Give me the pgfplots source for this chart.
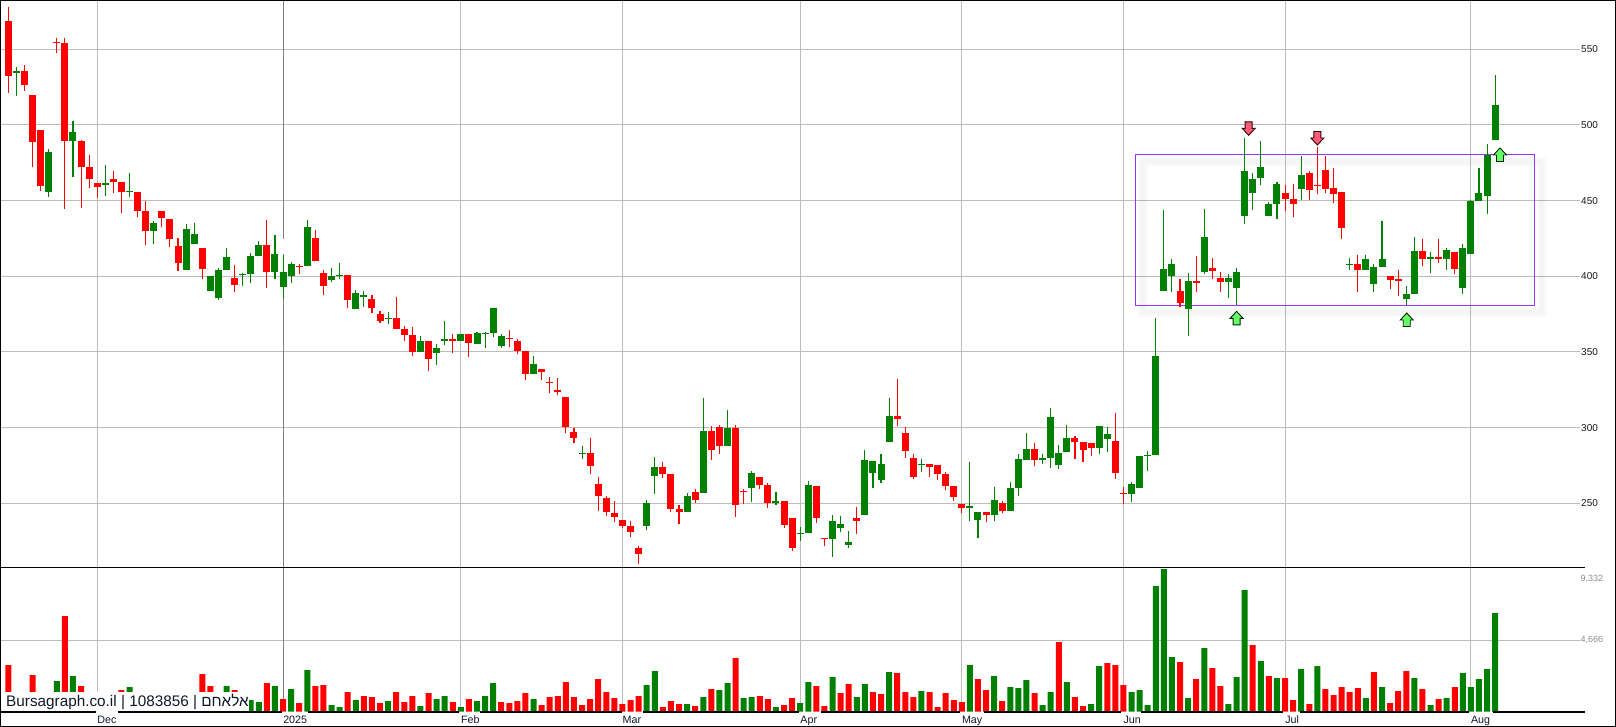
\documentclass[border=0pt]{standalone}
\usepackage{fontspec}
\setmainfont{Liberation Sans}
\newfontfamily\hebfont[Script=Hebrew]{Liberation Sans}
\TeXXeTstate=1
\usepackage{pgfplots}
\usepackage{pgfplotstable}
\pgfplotsset{compat=1.18}
\definecolor{cred}{HTML}{FF0000}
\definecolor{cgreen}{HTML}{008000}
\definecolor{gridc}{HTML}{BFBCB7}
\definecolor{boxc}{HTML}{9933FF}
\definecolor{navy}{HTML}{101828}
\definecolor{upc}{HTML}{66FF66}
\definecolor{dnc}{HTML}{FF5C7A}
\pgfdeclareplotmark{uparr}{%
  \pgfpathmoveto{\pgfqpoint{0pt}{7pt}}\pgfpathlineto{\pgfqpoint{6.5pt}{0pt}}\pgfpathlineto{\pgfqpoint{3.5pt}{0pt}}%
  \pgfpathlineto{\pgfqpoint{3.5pt}{-6.5pt}}\pgfpathlineto{\pgfqpoint{-3.5pt}{-6.5pt}}\pgfpathlineto{\pgfqpoint{-3.5pt}{0pt}}%
  \pgfpathlineto{\pgfqpoint{-6.5pt}{0pt}}\pgfpathclose\pgfusepathqfillstroke}
\pgfdeclareplotmark{dnarr}{%
  \pgfpathmoveto{\pgfqpoint{0pt}{-7pt}}\pgfpathlineto{\pgfqpoint{6.5pt}{0pt}}\pgfpathlineto{\pgfqpoint{3.5pt}{0pt}}%
  \pgfpathlineto{\pgfqpoint{3.5pt}{6.5pt}}\pgfpathlineto{\pgfqpoint{-3.5pt}{6.5pt}}\pgfpathlineto{\pgfqpoint{-3.5pt}{0pt}}%
  \pgfpathlineto{\pgfqpoint{-6.5pt}{0pt}}\pgfpathclose\pgfusepathqfillstroke}
\pgfplotstableread{
x hi top bot lo
0 578.0 568.7 532.4 521.1
2 539.6 535.7 526.4 522.5
3 519.8 519.8 488.8 472.2
4 496.7 496.7 459.7 456.4
6 557.5 554.8 554.2 547.6
7 557.5 554.2 489.4 444.5
9 490.1 489.4 472.2 445.2
10 480.2 472.2 464.3 458.4
11 461.7 461.7 459.0 451.8
13 469.6 464.3 462.3 455.1
14 462.3 462.3 455.7 441.9
16 455.7 455.7 443.2 439.2
17 449.8 443.2 430.0 420.7
19 443.2 443.2 438.5 432.6
20 437.9 437.9 424.7 419.4
21 425.3 420.0 408.8 403.5
24 418.7 418.7 404.8 398.2
28 407.5 398.9 394.3 389.6
32 437.2 420.7 402.9 392.3
36 408.2 406.8 406.2 401.5
38 430.6 425.3 410.1 410.1
39 404.2 402.2 393.6 387.7
42 400.9 400.9 384.4 379.1
45 387.7 385.0 379.1 375.8
46 377.1 375.1 370.5 369.2
48 386.3 372.5 365.2 365.2
49 367.2 365.2 361.2 357.3
50 366.5 361.2 350.0 347.4
52 357.3 357.3 345.4 337.4
55 361.9 358.6 357.3 349.3
57 361.9 361.9 356.0 346.7
62 364.5 359.3 358.6 353.3
63 358.6 357.3 350.7 348.7
64 350.7 350.7 335.5 331.5
66 338.8 338.8 336.8 331.5
67 333.5 330.2 329.5 322.9
68 332.8 324.9 323.6 321.6
69 320.3 320.3 300.4 296.5
70 299.8 297.1 293.2 289.9
72 293.2 283.3 274.7 269.4
73 267.4 262.8 254.8 244.9
74 254.8 253.5 244.3 241.6
75 251.5 243.6 241.0 237.7
76 239.0 239.0 235.0 233.7
77 238.3 235.0 231.1 227.8
78 221.8 220.5 216.5 209.9
81 277.3 274.0 269.4 266.7
82 269.4 269.4 246.3 244.3
83 248.9 246.3 244.3 236.3
85 259.5 257.5 252.2 250.2
87 301.1 297.8 285.2 278.6
88 301.8 300.4 287.9 282.6
90 301.8 299.8 248.9 241.0
91 259.5 258.1 257.5 249.6
93 267.4 267.4 262.1 259.5
94 263.4 262.1 250.2 246.9
96 251.5 251.5 235.7 233.7
97 240.3 240.3 220.5 218.5
100 261.5 261.5 240.3 237.0
101 227.1 227.1 226.4 221.8
105 247.6 240.3 238.3 229.7
110 332.2 307.7 305.7 301.1
111 300.4 296.5 284.6 280.0
112 282.6 280.0 267.4 266.1
114 276.0 276.0 274.0 267.4
115 275.3 275.3 269.4 265.4
116 270.7 269.4 261.5 258.8
117 261.5 261.5 254.2 251.5
118 249.8 249.8 246.9 243.6
121 244.3 244.3 242.3 237.7
123 251.5 250.2 244.9 243.6
127 289.9 285.9 278.6 274.7
132 294.5 293.2 290.5 279.3
133 290.5 290.5 285.2 277.3
134 289.9 289.9 286.6 281.3
137 309.7 291.2 270.0 266.1
138 260.8 256.8 256.2 249.6
145 398.2 390.3 382.4 379.7
147 413.4 396.9 395.6 389.6
149 412.1 405.5 403.5 398.2
150 402.9 398.9 396.3 389.6
158 460.4 455.1 451.1 443.2
159 461.0 451.1 447.8 439.2
161 469.6 468.3 457.0 450.4
162 485.5 460.4 459.7 454.4
163 479.5 470.3 457.7 455.1
164 471.6 458.4 454.4 448.5
165 455.7 455.7 431.9 424.7
167 414.1 408.1 404.2 389.6
171 400.2 400.2 397.6 391.6
172 404.2 398.2 396.9 387.0
175 424.7 416.7 411.5 406.8
177 424.7 412.8 411.5 408.8
179 416.1 416.1 404.8 401.5
}\redc
\pgfplotstableread{
x hi top bot lo
1 538.3 535.7 534.4 519.2
5 484.1 482.2 455.7 452.4
8 502.6 495.4 489.4 465.6
12 473.6 461.7 460.4 453.1
15 468.3 456.4 455.7 452.4
18 436.6 435.2 430.0 421.4
22 434.6 431.3 404.2 404.2
23 435.2 428.0 421.4 421.4
25 400.2 400.2 390.3 390.3
26 405.5 404.2 385.7 384.4
27 418.7 412.8 404.2 404.2
29 402.2 401.8 400.9 393.6
30 415.4 413.4 401.5 395.6
31 423.4 420.7 413.4 413.4
33 427.3 414.8 402.9 398.2
34 414.1 402.9 393.0 385.5
35 409.5 408.2 400.2 395.6
37 437.2 432.6 406.8 406.8
40 405.5 400.2 397.6 396.3
41 408.8 400.9 400.0 398.2
43 391.0 389.0 378.4 378.4
44 390.3 387.7 386.3 379.7
47 376.4 372.5 371.8 368.5
51 360.6 357.3 350.0 350.0
53 355.3 352.6 349.3 341.4
54 370.5 358.6 357.3 354.6
56 361.9 361.9 357.3 357.3
58 363.2 362.6 355.3 355.3
59 363.2 362.8 362.1 352.6
60 379.1 379.1 362.6 359.9
61 361.9 360.6 354.0 352.6
65 347.4 342.1 335.5 335.5
71 287.9 283.3 282.6 279.3
79 252.2 250.2 235.0 232.4
80 280.6 274.0 268.1 256.2
84 256.8 254.8 244.3 244.3
86 319.6 297.8 256.8 256.8
89 311.7 299.8 287.9 287.9
92 271.4 270.0 260.1 250.9
95 257.5 251.5 250.2 248.9
98 234.4 230.4 229.7 225.1
99 264.8 262.1 230.4 230.4
102 242.3 238.3 226.4 214.5
103 241.6 236.3 233.7 231.1
104 231.7 224.4 222.5 220.5
106 285.2 278.6 242.3 242.3
107 278.0 278.0 270.0 260.1
108 282.6 276.0 265.4 263.4
109 319.6 307.7 290.5 290.5
113 279.3 276.0 275.3 270.7
119 277.3 248.2 246.9 238.3
120 244.3 244.3 239.0 227.1
122 260.8 252.2 242.3 238.3
124 264.1 260.1 244.9 244.9
125 282.6 279.3 260.1 254.8
126 296.5 285.9 278.6 278.6
128 282.6 280.0 278.6 276.0
129 313.0 307.0 280.0 273.3
130 288.5 283.3 275.3 272.6
131 301.8 293.2 283.9 283.9
135 301.1 301.1 286.6 282.6
136 300.4 295.8 292.5 283.9
139 264.1 262.8 256.2 250.9
140 281.3 281.3 260.1 260.1
141 284.6 281.9 281.3 271.4
142 372.5 347.4 281.9 281.9
143 443.8 404.8 390.3 390.3
144 411.5 408.1 400.2 389.6
146 402.2 396.9 378.4 360.6
148 444.5 426.0 402.9 401.5
151 401.5 398.9 396.3 385.7
152 405.5 402.9 392.3 381.1
153 491.4 469.6 439.9 434.6
154 468.3 464.3 455.1 443.8
155 489.4 472.2 465.0 460.4
156 449.1 447.8 439.9 439.9
157 462.3 461.0 447.8 437.9
160 479.5 467.0 457.7 450.4
166 412.1 408.1 407.5 404.2
168 414.1 411.5 404.2 404.2
169 408.1 406.2 394.9 389.6
170 436.6 411.5 406.2 406.2
173 393.6 388.3 385.0 381.1
174 426.0 416.7 388.3 388.3
176 416.1 412.8 411.5 402.2
178 418.7 417.4 411.5 404.2
180 421.4 418.7 392.3 388.3
181 450.2 449.8 414.8 414.8
182 471.6 455.1 449.8 449.8
183 487.4 480.2 453.1 441.2
184 533.0 513.2 490.1 490.1
}\greenc
\pgfplotstableread{
x v
0 3052
2 600
3 2398
4 600
7 6257
9 1679
10 600
11 600
13 600
14 1417
16 600
17 600
19 600
20 600
21 600
24 2463
25 1679
28 1417
32 1875
34 828
36 567
38 1679
39 1744
42 1286
44 1025
45 959
46 567
48 1286
49 632
50 1025
52 1221
55 632
57 828
61 632
62 567
63 698
64 1221
66 436
67 959
68 1025
69 1940
70 959
71 436
72 828
73 2136
74 1286
75 894
76 501
77 763
78 1025
81 305
82 698
83 501
85 371
87 1482
90 3510
93 1025
94 828
96 436
97 894
100 1679
101 371
103 1221
104 1809
107 1286
108 1155
110 2529
111 1286
112 959
114 1286
115 305
116 1221
117 763
118 632
120 2136
121 1417
123 698
127 1221
130 4556
132 959
133 371
136 3183
137 3052
138 1744
145 3248
147 2136
149 2856
150 1679
154 4360
156 2333
158 2202
159 763
161 501
163 1482
164 1090
165 1613
166 1286
167 1548
169 2594
171 567
172 1352
173 2660
175 1482
177 828
179 1613
}\redv
\pgfplotstableread{
x v
1 600
5 600
6 2006
8 2333
12 600
15 1613
18 600
22 600
23 600
26 600
27 1679
29 600
30 763
31 632
33 1679
35 1482
37 2725
40 436
41 305
43 763
47 698
51 371
53 828
54 1025
56 305
58 698
59 1025
60 1875
65 828
79 1744
80 2660
84 501
86 959
88 1417
89 1875
91 894
92 959
95 305
98 567
99 1940
102 2267
105 959
106 1809
109 2594
113 1352
119 3052
122 2333
124 1613
125 1548
126 2071
128 436
129 1286
131 1940
134 501
135 2987
139 1286
140 1417
141 436
142 8219
143 9330
144 3575
146 894
148 4164
151 501
152 2267
153 7957
155 3314
157 2202
160 2790
162 2987
168 894
170 1613
174 2202
176 436
178 894
180 2529
181 1613
182 2136
183 2790
184 6453
}\greenv
\pgfplotsset{
 chartbase/.style={
  scale only axis, width=1580pt,
  xmin=-1.031, xmax=194.5,
  anchor=north west,
  axis line style={draw=none}, tick style={draw=none},
  xtick={11,34,56,76,98,118,138,158,181},
  grid=major, grid style={gridc,line width=1pt},
  extra x ticks={34}, extra x tick labels={},
  extra x tick style={grid=major, grid style={color=black!50,line width=1pt}},
  yticklabel pos=right,
  clip=true,
 },
 wick/.style={only marks, mark size=0pt, mark options={draw=none,fill=none}, forget plot,
   error bars/.cd, y dir=both, y explicit, error mark=none,
   error bar style={color=#1,line width=1.1pt}},
 body/.style={only marks, mark size=0pt, mark options={draw=none,fill=none}, forget plot,
   error bars/.cd, y dir=plus, y explicit, error mark=none,
   error bar style={color=#1,line width=7pt}},
}
\begin{document}
\begin{tikzpicture}
\useasboundingbox (0,0) rectangle (1616pt,-727pt);
\begin{axis}[chartbase, at={(0pt,0pt)}, height=567.3pt,
  ymin=207.7, ymax=582.6,
  ytick={250,300,350,400,450,500,550},
  xticklabels={},
  yticklabel style={anchor=west, xshift=-1pt, font=\fontsize{10}{12}\selectfont, text=black!90,
    /pgf/number format/assume math mode=true, inner xsep=2pt},
]
\draw[white,line width=1.4pt] (axis cs:34.06,424.5) -- (axis cs:34.06,414.5);
\draw[black,opacity=0.02,line width=10pt,xshift=7pt,yshift=-7pt] (axis cs:139.5,480.4) rectangle (axis cs:188.9,380.8);
\draw[black,opacity=0.02,line width=5pt,xshift=7pt,yshift=-7pt] (axis cs:139.5,480.4) rectangle (axis cs:188.9,380.8);
\draw[boxc,line width=1pt] (axis cs:139.5,480.4) rectangle (axis cs:188.9,380.8);
\addplot[wick=cred] table[x=x,y=top,y error plus expr=\thisrow{hi}-\thisrow{top},y error minus expr=\thisrow{top}-\thisrow{lo}] {\redc};
\addplot[body=cred] table[x=x,y=bot,y error plus expr=\thisrow{top}-\thisrow{bot}] {\redc};
\addplot[wick=cgreen] table[x=x,y=top,y error plus expr=\thisrow{hi}-\thisrow{top},y error minus expr=\thisrow{top}-\thisrow{lo}] {\greenc};
\addplot[body=cgreen] table[x=x,y=bot,y error plus expr=\thisrow{top}-\thisrow{bot}] {\greenc};
\addplot[only marks, mark=uparr, mark options={draw=black!85!green, fill=upc, line width=0.9pt}, forget plot] coordinates {(152.0,372.2) (173.06,371.1) (184.6,480.2)};
\addplot[only marks, mark=dnarr, mark options={draw=black!80!red, fill=dnc, line width=0.9pt}, forget plot] coordinates {(153.5,497.8) (162.0,491.4)};
\end{axis}
\begin{axis}[chartbase, at={(0pt,-567.3pt)}, height=144.4pt,
  ymin=0, ymax=9445, clip=false,
  ytick={4666}, yticklabels={{4{,}666}},
  extra y ticks={8660}, extra y tick labels={{9{,}332}},
  extra y tick style={grid=none},
  yticklabel style={anchor=west, xshift=-1.5pt, font=\fontsize{9}{11}\selectfont, text=black!45, inner xsep=2pt,
    /pgf/number format/assume math mode=true},
  xticklabels={Dec,2025,Feb,Mar,Apr,May,Jun,Jul,Aug},
  xticklabel style={anchor=north west, font=\fontsize{10.7}{12}\selectfont, text=navy, fill=white,
    inner xsep=1pt, inner ysep=1.5pt, text height=11.3pt, text depth=1pt, xshift=-1pt, yshift=5.5pt},
  ybar, bar width=6pt, bar shift=0pt,
]
\addplot[fill=cred,draw=none,forget plot] table[x=x,y=v] {\redv};
\addplot[fill=cgreen,draw=none,forget plot] table[x=x,y=v] {\greenv};
\node[anchor=south west, fill=white, inner xsep=0pt, inner ysep=0pt, minimum width=248pt, minimum height=19pt, text height=13pt, text depth=3.5pt,
  font=\fontsize{15.3}{18}\selectfont, text=navy, align=left] at (axis cs:-0.9,0)
  {\hspace{4.5pt}Bursagraph.co.il | 1083856 | {\hebfont\beginR אלאחם\endR}};
\draw[black,line width=2pt] (axis cs:-1.031,0) -- (axis cs:10.9,0) (axis cs:13.6,0) -- (axis cs:33.9,0)
  (axis cs:37.1,0) -- (axis cs:55.8,0) (axis cs:58.4,0) -- (axis cs:75.9,0)
  (axis cs:78.6,0) -- (axis cs:97.8,0) (axis cs:100.6,0) -- (axis cs:117.8,0)
  (axis cs:120.7,0) -- (axis cs:137.7,0) (axis cs:140.2,0) -- (axis cs:157.8,0)
  (axis cs:159.9,0) -- (axis cs:180.8,0) (axis cs:183.7,0) -- (axis cs:194.5,0);
\end{axis}
\draw[black,line width=1pt] (0,-567.3pt) -- (1585pt,-567.3pt);
\draw[black,line width=2pt] (1580pt,-711.7pt) -- (1585pt,-711.7pt);
\draw[black,line width=1pt] (0.5pt,-0.5pt) rectangle (1615.5pt,-726.5pt);
\end{tikzpicture}
\end{document}
